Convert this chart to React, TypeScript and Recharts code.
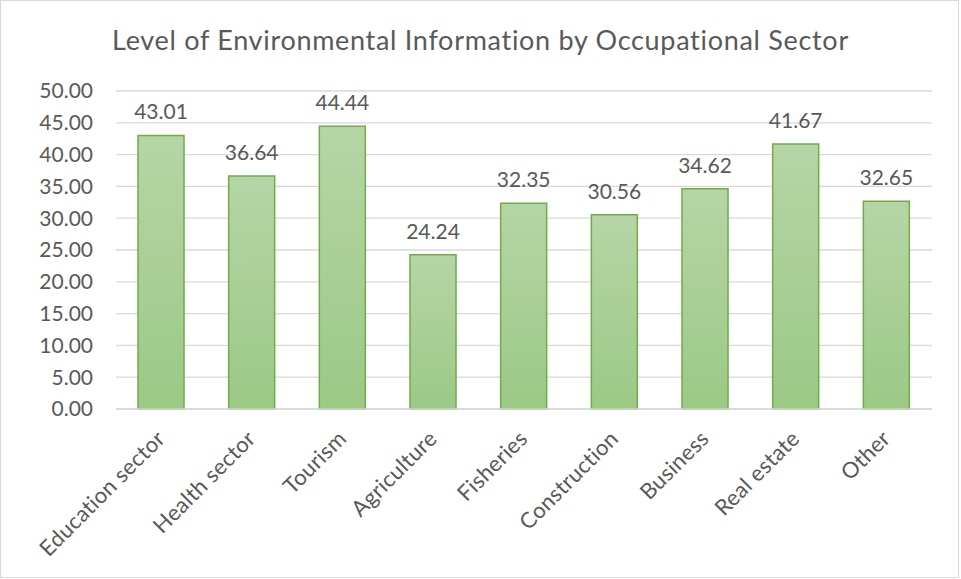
import { BarChart, Bar, XAxis, YAxis, CartesianGrid, LabelList } from 'recharts';

const sectors = [
  'Education sector',
  'Health sector',
  'Tourism',
  'Agriculture',
  'Fisheries',
  'Construction',
  'Business',
  'Real estate',
  'Other',
];
const levels = [43.01, 36.64, 44.44, 24.24, 32.35, 30.56, 34.62, 41.67, 32.65];
const yTicks = [0, 5, 10, 15, 20, 25, 30, 35, 40, 45, 50];

const chartTitle = 'Level of Environmental Information by Occupational Sector';

const data = sectors.map((name, i) => ({ name, value: levels[i] }));

const FONT = 'Lato, "Open Sans", sans-serif';
const TEXT = '#595959';

// rotated category label, anchored at its right end
const SectorTick = (props: any) => {
  const { x, y, payload } = props;
  return (
    <g transform={`translate(${x + 5},${y + 23})`}>
      <text
        x={0}
        y={0}
        textAnchor="end"
        transform="rotate(-45)"
        fill={TEXT}
        fontSize={22}
        fontFamily={FONT}
        letterSpacing={0.3}
      >
        {payload.value}
      </text>
    </g>
  );
};

const App = () => {
  return (
    <div style={{ position: 'relative', width: 961, height: 579, background: '#fff' }}>
      <style>{'body{margin:0}'}</style>
      <div
        style={{
          position: 'absolute',
          left: 0,
          top: 0,
          width: 957,
          height: 576,
          border: '1px solid #d9d9d9',
          boxSizing: 'content-box',
        }}
      />
      <div
        style={{
          position: 'absolute',
          top: 23,
          left: 0,
          width: 961,
          textAlign: 'center',
          fontFamily: FONT,
          fontSize: 27,
          color: TEXT,
          letterSpacing: 0.7,
        }}
      >
        {chartTitle}
      </div>
      <BarChart
        width={961}
        height={579}
        data={data}
        margin={{ top: 91, right: 29, left: 0, bottom: 0 }}
        style={{ position: 'absolute', left: 0, top: 0 }}
      >
        <defs>
          <linearGradient id="barFill" x1="0" y1="0" x2="0" y2="1">
            <stop offset="0%" stopColor="#b5d5a6" />
            <stop offset="100%" stopColor="#9cc986" />
          </linearGradient>
        </defs>
        <CartesianGrid vertical={false} stroke="#d9d9d9" strokeWidth={1.3} />
        <XAxis
          dataKey="name"
          interval={0}
          tickLine={false}
          axisLine={{ stroke: '#d9d9d9', strokeWidth: 1.3 }}
          tick={<SectorTick />}
          height={170}
        />
        <YAxis
          domain={[0, 50]}
          ticks={yTicks}
          interval={0}
          width={116}
          axisLine={false}
          tickLine={false}
          tickSize={0}
          tickMargin={23}
          tickFormatter={(v: number) => v.toFixed(2)}
          tick={{ fill: TEXT, fontSize: 21, fontFamily: FONT }}
        />
        <Bar
          dataKey="value"
          barSize={46}
          fill="url(#barFill)"
          stroke="#70ad47"
          strokeWidth={1.5}
          isAnimationActive={false}
        >
          <LabelList
            dataKey="value"
            position="top"
            offset={16}
            formatter={(v: any) => Number(v).toFixed(2)}
            fill={TEXT}
            fontSize={21}
            fontFamily={FONT}
          />
        </Bar>
      </BarChart>
    </div>
  );
};

export default App;
